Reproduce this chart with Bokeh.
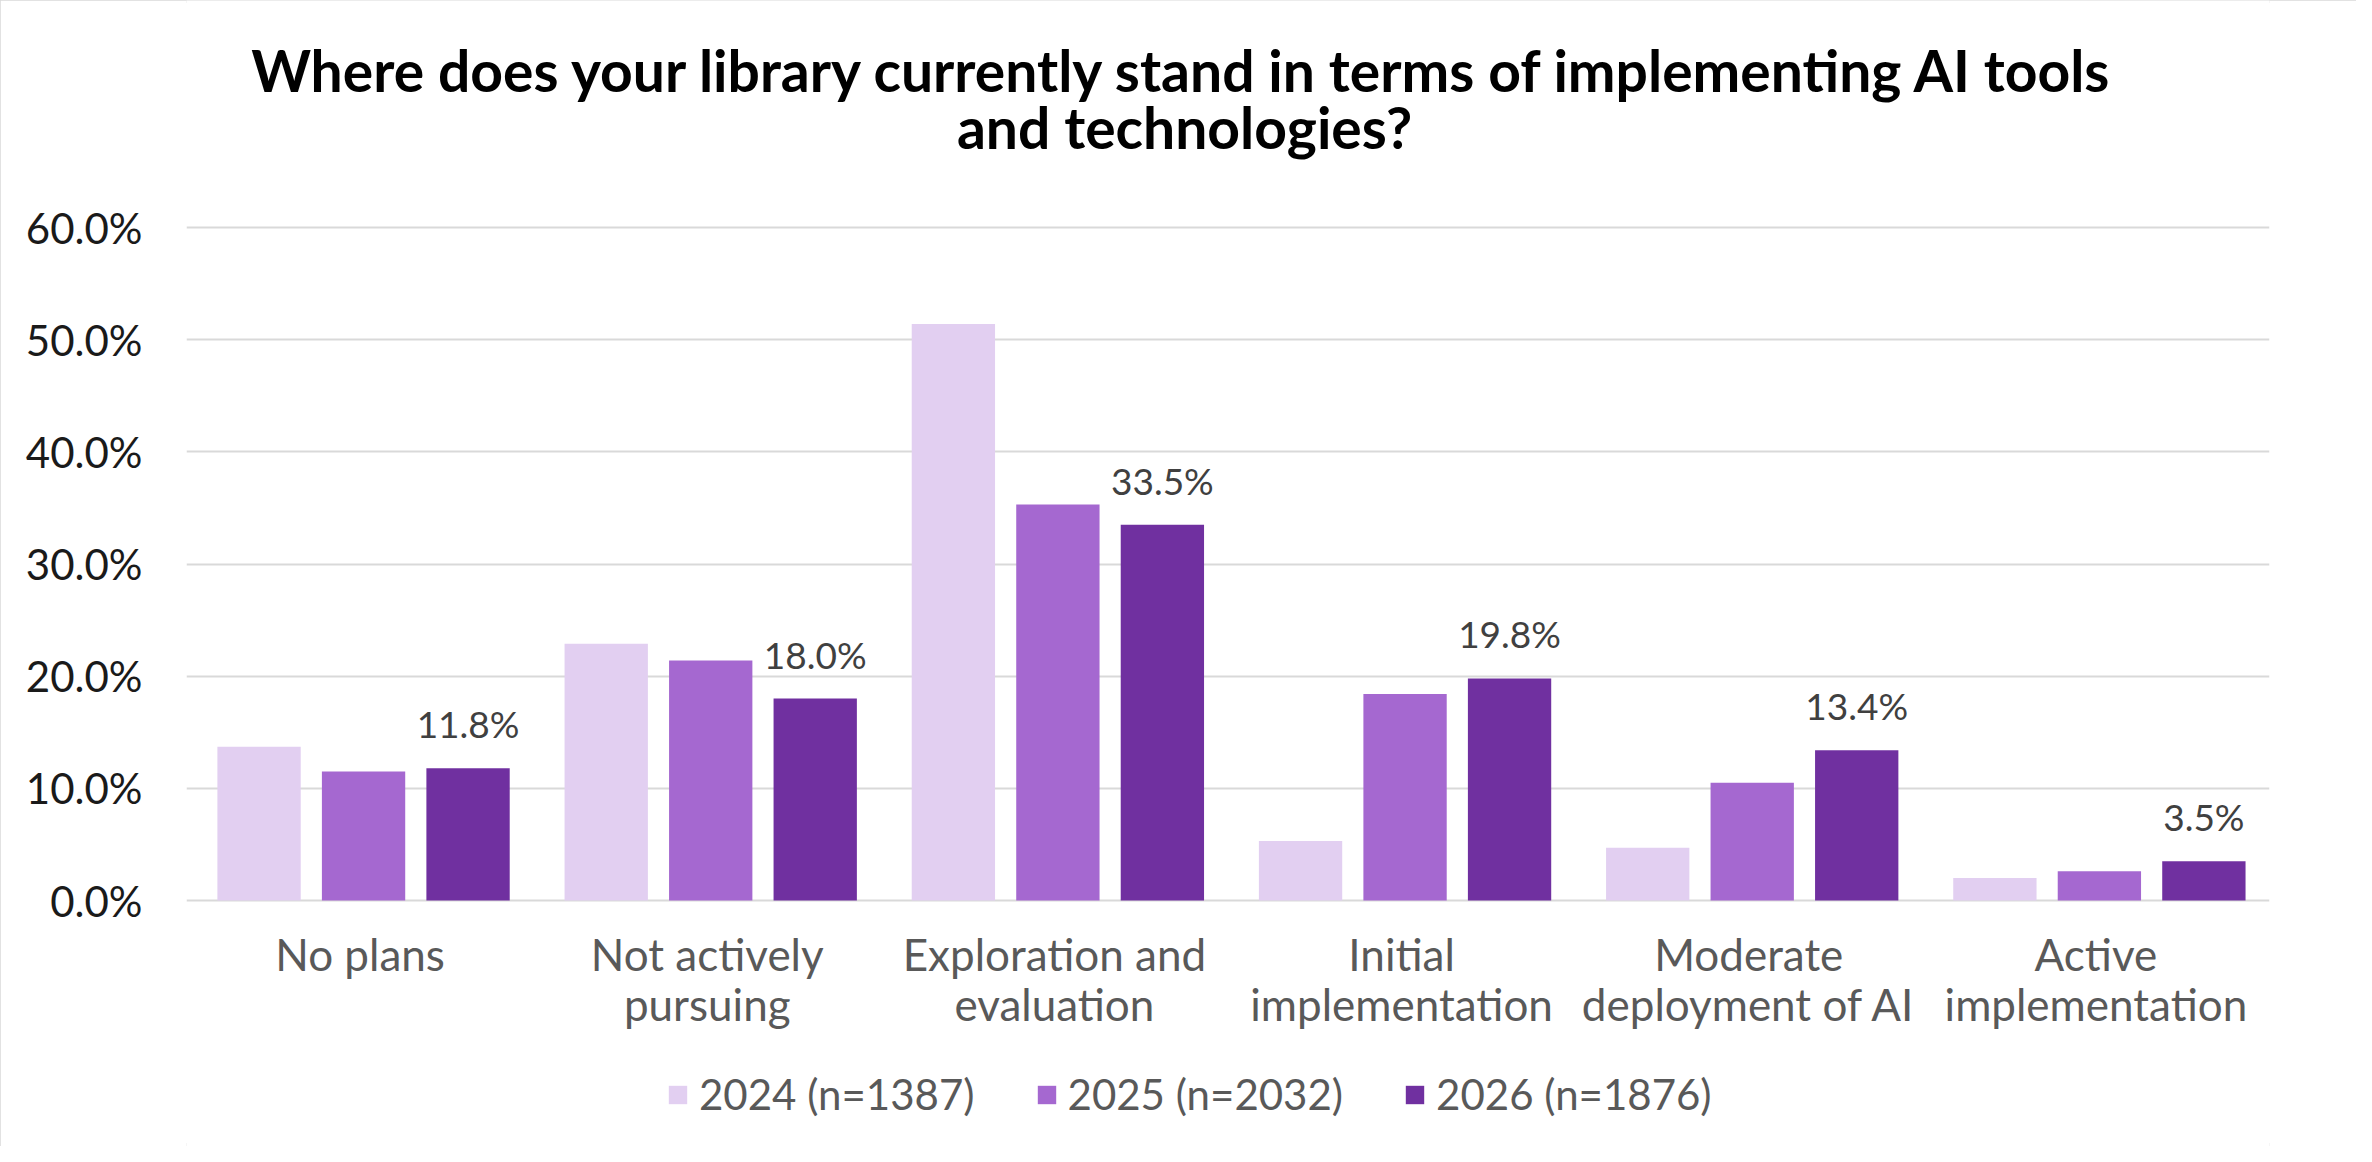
from bokeh.plotting import figure
from bokeh.models import (ColumnDataSource, FactorRange, FixedTicker, PrintfTickFormatter,
                          Legend, LegendItem, LabelSet, Label, Range1d)
from bokeh.core.properties import value
from bokeh.transform import dodge
from bokeh.embed import file_html
from bokeh.resources import INLINE

# data (percent of respondents)
categories = ["No plans", "Not actively pursuing", "Exploration and evaluation",
              "Initial implementation", "Moderate deployment of AI", "Active implementation"]
label_line1 = ["No plans", "Not actively", "Exploration and", "Initial", "Moderate", "Active"]
label_line2 = ["", "pursuing", "evaluation", "implementation", "deployment of AI", "implementation"]
series_names = ["2024 (n=1387)", "2025 (n=2032)", "2026 (n=1876)"]
share_2024 = [13.7, 22.9, 51.4, 5.3, 4.7, 2.0]
share_2025 = [11.5, 21.4, 35.3, 18.4, 10.5, 2.6]
share_2026 = [11.8, 18.0, 33.5, 19.8, 13.4, 3.5]
y_ticks = [0, 10, 20, 30, 40, 50, 60]

colors = ["#E2CFF1", "#A568D0", "#7030A0"]
FONT = "Lato"

W, H = 2356, 1146
LEFT, RIGHT = 186, 87
Y_TOP_PX, Y_ZERO_PX = 227, 900   # pixel rows of 60% and 0%
px_per_unit = (Y_ZERO_PX - Y_TOP_PX) / y_ticks[-1]

source = ColumnDataSource(dict(
    cat=categories,
    line1=label_line1,
    line2=label_line2,
    v2024=share_2024,
    v2025=share_2025,
    v2026=share_2026,
    lbl=[f"{v:.1f}%" for v in share_2026],
))

p = figure(
    x_range=FactorRange(*categories),
    y_range=Range1d(-(H - Y_ZERO_PX) / px_per_unit, y_ticks[-1] + Y_TOP_PX / px_per_unit),
    width=W, height=H, title=None,
    toolbar_location=None, tools="",
    output_backend="svg",
)
p.min_border_left = LEFT
p.min_border_right = RIGHT
p.min_border_top = 0
p.min_border_bottom = 0
p.outline_line_color = None
p.styles = {"outline": "3px solid #D9D9D9", "outline-offset": "-3px"}

# two-line title, centred on the chart
frame_mid = (LEFT + W - RIGHT) / 2
for txt, off in [("Where does your library currently stand in terms of implementing AI tools", 158),
                 ("and technologies?", 101)]:
    p.add_layout(Label(x=len(categories) / 2, y=y_ticks[-1], text=txt,
                       x_offset=1184 - frame_mid, y_offset=off,
                       text_align="center", text_baseline="alphabetic",
                       text_font=FONT, text_font_size="57px", text_font_style="bold",
                       text_color="#000000"))

offsets = [-0.301, 0.0, 0.301]
fields = ["v2024", "v2025", "v2026"]
renderers = []
for off, fld, col in zip(offsets, fields, colors):
    r = p.vbar(x=dodge("cat", off + 0.01, range=p.x_range), top=fld, width=0.24,
               source=source, fill_color=col, line_color=None)
    renderers.append(r)

# value labels on the 2026 bars
p.add_layout(LabelSet(x=dodge("cat", offsets[2] + 0.01, range=p.x_range), y="v2026", text="lbl",
                      source=source, text_align="center", text_baseline="alphabetic",
                      y_offset=30, text_font=value(FONT), text_font_size="37px",
                      text_color="#404040"))

# category labels under the zero line, each line centred
for fld, off in [("line1", -27), ("line2", -77)]:
    p.add_layout(LabelSet(x="cat", y=0, text=fld, source=source,
                          text_align="center", text_baseline="top", y_offset=off,
                          text_font=value(FONT), text_font_size="44px",
                          text_color="#595959"))

p.xaxis.visible = False
p.yaxis.ticker = FixedTicker(ticks=y_ticks)
p.yaxis.formatter = PrintfTickFormatter(format="%.1f%%")
p.yaxis.major_label_text_font = FONT
p.yaxis.major_label_text_font_size = "42px"
p.yaxis.major_label_text_color = "#1a1a1a"
p.yaxis.major_label_standoff = 38
p.yaxis.axis_line_color = None
p.yaxis.major_tick_line_color = None
p.yaxis.minor_tick_line_color = None

p.xgrid.grid_line_color = None
p.ygrid.grid_line_color = "#D9D9D9"
p.ygrid.grid_line_width = 2

legend = Legend(
    items=[LegendItem(label=n, renderers=[r]) for n, r in zip(series_names, renderers)],
    orientation="horizontal", location=(666 - LEFT, 27),
    label_text_font=FONT, label_text_font_size="42px", label_text_color="#595959",
    glyph_width=23, glyph_height=23, label_standoff=10, spacing=60,
    border_line_color=None, background_fill_alpha=0, margin=0, padding=0,
)
p.add_layout(legend)

open("out.html", "w").write(file_html(p, INLINE))
